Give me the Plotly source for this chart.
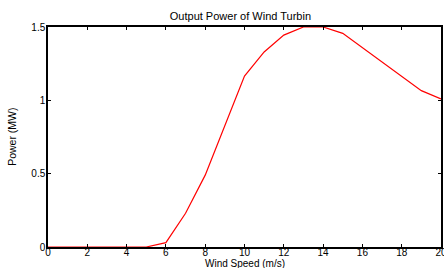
import plotly.graph_objects as go

wind_speed = [0, 1, 2, 3, 4, 5, 6, 7, 8, 9, 10, 11, 12, 13, 14, 15, 16, 17, 18, 19, 20]
power_mw = [0, 0, 0, 0, 0, 0, 0.03, 0.23, 0.49, 0.83, 1.165, 1.33, 1.445, 1.5, 1.5, 1.457, 1.36, 1.26, 1.165, 1.066, 1.01]
x_ticks = [0, 2, 4, 6, 8, 10, 12, 14, 16, 18, 20]
y_ticks = [0, 0.5, 1, 1.5]
y_tick_labels = ["0", "0.5", "1", "1.5"]

font = "Liberation Sans, Arial, sans-serif"

fig = go.Figure()
fig.add_trace(go.Scatter(x=wind_speed, y=power_mw, mode="lines",
                         line=dict(color="#ff0000", width=1.2), showlegend=False))

fig.update_layout(
    width=444, height=268,
    margin=dict(l=48, r=3, t=27, b=21, autoexpand=False),
    paper_bgcolor="white", plot_bgcolor="white",
    font=dict(family=font, size=10, color="black"),
    title=dict(text="Output Power of Wind Turbin", x=0.5415, xanchor="center",
               y=0.94, yanchor="middle", font=dict(size=11, family=font)),
    annotations=[
        dict(text="Wind Speed (m/s)", xref="paper", yref="paper", x=0.5, y=-0.076,
             xanchor="center", yanchor="middle", showarrow=False, font=dict(size=10)),
        dict(text="Power (MW)", xref="paper", yref="paper", x=-0.092, y=0.5,
             xanchor="center", yanchor="middle", textangle=-90, showarrow=False,
             font=dict(size=10.5)),
    ],
)
fig.update_xaxes(range=[0, 20], tickvals=x_ticks, ticks="inside", ticklen=3,
                 tickcolor="black", showline=True, linecolor="black", linewidth=1.5,
                 mirror="ticks", showgrid=False, zeroline=False, automargin=False,
                 tickfont=dict(size=10), ticklabelstandoff=-5, ticklabeloverflow="allow")
fig.update_yaxes(range=[0, 1.5], tickvals=y_ticks, ticktext=y_tick_labels, ticks="inside",
                 ticklen=3, tickcolor="black", showline=True, linecolor="black",
                 linewidth=1.5, mirror="ticks", showgrid=False, zeroline=False,
                 automargin=False, tickfont=dict(size=10), ticklabelstandoff=-1,
                 ticklabeloverflow="allow")

fig.write_html("out.html", config={"displayModeBar": False},
               post_script="document.body.style.margin='0';document.body.style.overflow='hidden';")
